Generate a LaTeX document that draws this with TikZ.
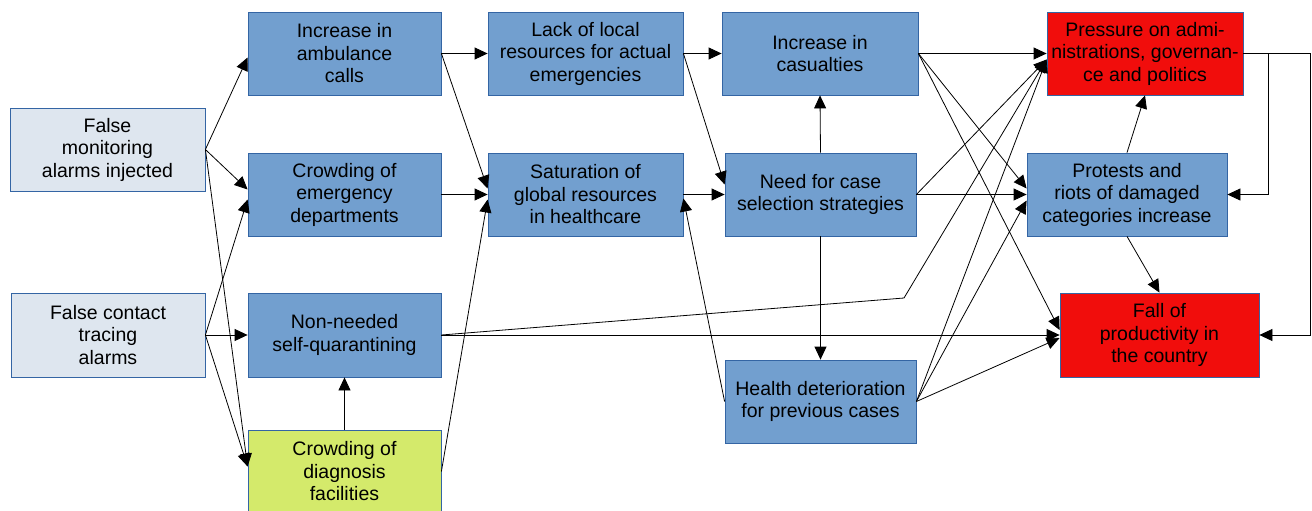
\documentclass[tikz,border=0pt]{standalone}
\usepackage{fontspec}
\setmainfont{Liberation Sans}
\usetikzlibrary{arrows.meta,calc}
\definecolor{bluefill}{HTML}{729FCF}
\definecolor{blueline}{HTML}{3465A4}
\definecolor{lightfill}{HTML}{DEE6EF}
\definecolor{redfill}{HTML}{F10D0C}
\definecolor{greenfill}{HTML}{D4EA6B}
\begin{document}
\begin{tikzpicture}[x=1pt,y=-1pt,
  box/.style={draw=blueline, line width=0.8pt, align=center, inner sep=0pt,
    font=\fontsize{19.5}{22.5}\selectfont, minimum height=83pt},
  bluebox/.style={box, fill=bluefill},
  lightbox/.style={box, fill=lightfill},
  redbox/.style={box, fill=redfill},
  greenbox/.style={box, fill=greenfill},
  conn/.style={line width=0.8pt, -{Triangle[length=13pt,width=12pt]}}
]
\useasboundingbox (0,0) rectangle (1312,511);

\node[lightbox, minimum width=195pt] (FM) at (107.5,149.5) {False\\monitoring\\alarms injected};
\node[lightbox, minimum width=194pt, minimum height=84pt] (FCT) at (108,335) {False contact\\tracing\\alarms};
\node[bluebox, minimum width=193pt] (IA) at (344.5,53.5) {Increase in\\ambulance\\calls};
\node[bluebox, minimum width=193pt] (CED) at (344.5,194.5) {Crowding of\\emergency\\departments};
\node[bluebox, minimum width=193pt, minimum height=84pt] (NN) at (344.5,335) {Non-needed\\self-quarantining};
\node[greenbox, minimum width=193pt] (CDF) at (344.5,471.5) {Crowding of\\diagnosis\\facilities};
\node[bluebox, minimum width=195pt] (LL) at (585.5,53.5) {Lack of local\\resources for actual\\emergencies};
\node[bluebox, minimum width=195pt] (SAT) at (585.5,194.5) {Saturation of\\global resources\\in healthcare};
\node[bluebox, minimum width=196pt] (IC) at (820,53.5) {Increase in\\casualties};
\node[bluebox, minimum width=191pt] (NC) at (820.5,194.5) {Need for case\\selection strategies};
\node[bluebox, minimum width=191pt] (HD) at (820.5,401.5) {Health deterioration\\for previous cases};
\node[redbox, minimum width=196pt] (PR) at (1145,53.5) {Pressure on admi-\\nistrations, governan-\\ce and politics};
\node[bluebox, minimum width=200pt] (PT) at (1127,194.5) {Protests and\\riots of damaged\\categories increase};
\node[redbox, minimum width=199pt, minimum height=84pt] (FP) at (1159.5,335) {Fall of\\productivity in\\the country};

\coordinate (bend) at (904,298);

% first column
\draw[conn] (FM.east) -- ($(IA.west)+(0,4)$);
\draw[conn] (FM.east) -- ($(CED.west)+(0,-5)$);
\draw[conn] (FM.east) -- ($(CDF.west)+(0,-5)$);
\draw[conn] (FCT.east) -- ($(CED.west)+(0,5)$);
\draw[conn] (FCT.east) -- (NN.west);
\draw[conn] (FCT.east) -- ($(CDF.west)+(0,-5)$);

% second column
\draw[conn] (IA.east) -- (LL.west);
\draw[conn] (IA.east) -- ($(SAT.west)+(0,-6)$);
\draw[conn] (CED.east) -- (SAT.west);
\draw[conn] (CDF.east) -- ($(SAT.west)+(0,5)$);
\draw[conn] (CDF.north) -- (NN.south);
\draw[conn] (NN.east) -- (bend) -- ($(PR.west)+(0,6)$);
\draw[conn] (NN.east) -- (FP.west);

% third column
\draw[conn] (LL.east) -- (IC.west);
\draw[conn] (LL.east) -- ($(NC.west)+(0,-10)$);
\draw[conn] (SAT.east) -- (NC.west);
\draw[conn] (HD.west) -- ($(SAT.east)+(0,4)$);

% fourth column
\draw[conn] (NC.north) -- (IC.south);
\draw[conn] (NC.south) -- (HD.north);
\draw[conn] (IC.east) -- (PR.west);
\draw[conn] (IC.east) -- ($(PT.west)+(0,-6)$);
\draw[conn] (IC.east) -- ($(FP.west)+(0,-5)$);
\draw[conn] (NC.east) -- ($(PR.west)+(0,6)$);
\draw[conn] (NC.east) -- (PT.west);
\draw[conn] (HD.east) -- ($(PR.west)+(0,6)$);
\draw[conn] (HD.east) -- ($(PT.west)+(0,6)$);
\draw[conn] (HD.east) -- ($(FP.west)+(0,3)$);

% right column
\draw[conn] (PT.north) -- (PR.south);
\draw[conn] (PT.south) -- (FP.north);
\draw[conn] (PR.east) -- ++(25,0) |- (PT.east);
\draw[conn] (PR.east) -- ++(67,0) |- (FP.east);
\end{tikzpicture}
\end{document}
